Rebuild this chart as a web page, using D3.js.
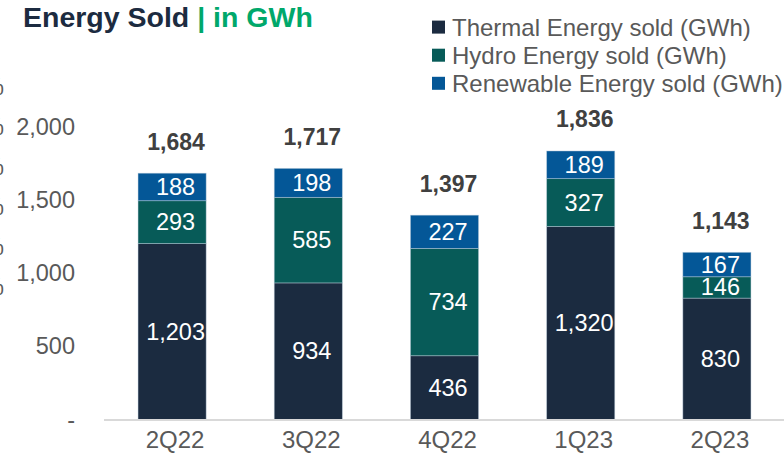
<!DOCTYPE html>
<html>
<head>
<meta charset="utf-8">
<script src="https://cdn.jsdelivr.net/npm/d3@7"></script>
<style>
  html, body { margin: 0; padding: 0; background: #fff; }
  svg { display: block; font-family: "Liberation Sans", Arial, Helvetica, sans-serif; }
</style>
</head>
<body>
<svg id="chart" width="784" height="464"></svg>
<script>
// Quarterly energy sold, GWh, stacked by source
const quarters   = ["2Q22", "3Q22", "4Q22", "1Q23", "2Q23"];
const thermal    = [1203, 934, 436, 1320, 830];
const hydro      = [293, 585, 734, 327, 146];
const renewable  = [188, 198, 227, 189, 167];
const totals     = [1684, 1717, 1397, 1836, 1143];

const seriesNames  = ["Thermal Energy sold (GWh)", "Hydro Energy sold (GWh)", "Renewable Energy sold (GWh)"];
const seriesColors = ["#1b2b40", "#075b58", "#045797"];
const yTicks       = [0, 500, 1000, 1500, 2000];

// Percent labels of the neighbouring panel's axis, cut off at the left edge
const sideAxisLabels = ["%", "%", "%", "%", "%", "%"];

const svg = d3.select("#chart");
const fmt = d3.format(",");
const FONT = "'Liberation Sans', Arial, sans-serif";

const x = d3.scaleBand().domain(quarters).range([104, 785]).paddingInner(0.5).paddingOuter(0.25);
const y = d3.scaleLinear().domain([0, 2000]).range([419.5, 127]);

const rows = quarters.map((q, i) => ({ q, thermal: thermal[i], hydro: hydro[i], renewable: renewable[i], total: totals[i] }));
const keys = ["thermal", "hydro", "renewable"];
const stacked = d3.stack().keys(keys)(rows);

// Clipped side labels
const clip = svg.append("defs").append("clipPath").attr("id", "edge");
clip.append("rect").attr("x", 0).attr("y", 0).attr("width", 784).attr("height", 464);
const side = d3.scalePoint().domain(d3.range(sideAxisLabels.length)).range([87, 287]);
svg.append("g").attr("clip-path", "url(#edge)")
  .selectAll("text").data(sideAxisLabels).join("text")
  .attr("x", 4).attr("y", (d, i) => side(i) + 8)
  .attr("text-anchor", "end").attr("font-size", 23).attr("fill", "#595959")
  .text(d => d);

// Title
const title = svg.append("text").attr("x", 23).attr("y", 27).attr("font-size", 28.5).attr("font-weight", "bold");
title.append("tspan").attr("fill", "#1c2b40").text("Energy Sold ");
title.append("tspan").attr("fill", "#00a86b").text("| in GWh");

// Legend
const legend = svg.append("g");
const legendY = d3.scalePoint().domain(seriesNames).range([27.3, 83.5]);
const li = legend.selectAll("g").data(seriesNames).join("g")
  .attr("transform", d => `translate(432,${legendY(d)})`);
li.append("rect").attr("x", 0).attr("y", -6.7).attr("width", 13).attr("height", 13)
  .attr("fill", (d, i) => seriesColors[i]);
li.append("text").attr("x", 20).attr("y", 8.5).attr("font-size", 24).attr("fill", "#595959").text(d => d);

// Y axis labels (no line, no ticks)
const yAxis = d3.axisLeft(y).tickValues(yTicks).tickSize(0).tickPadding(0)
  .tickFormat(d => d === 0 ? "-" : fmt(d));
const yg = svg.append("g").attr("transform", "translate(75,0)").call(yAxis);
yg.select(".domain").remove();
yg.selectAll("text").attr("font-size", 23.5).attr("fill", "#595959").attr("font-family", FONT);

// Stacked bars
const layers = svg.append("g").selectAll("g").data(stacked).join("g")
  .attr("fill", (d, i) => seriesColors[i]);
layers.selectAll("rect").data(d => d).join("rect")
  .attr("x", d => x(d.data.q))
  .attr("width", x.bandwidth())
  .attr("y", d => y(d[1]))
  .attr("height", d => y(d[0]) - y(d[1]))
  .attr("stroke", "rgba(190,205,220,0.55)")
  .attr("stroke-width", 0.8);

// Segment value labels
svg.append("g").selectAll("g").data(stacked).join("g")
  .selectAll("text").data(d => d.map(s => ({ s, v: s[1] - s[0] }))).join("text")
  .attr("x", d => x(d.s.data.q) + x.bandwidth() / 2 + 3.5)
  .attr("y", d => (y(d.s[0]) + y(d.s[1])) / 2 + 8)
  .attr("text-anchor", "middle").attr("font-size", 23.5).attr("fill", "#ffffff")
  .text(d => fmt(d.v));

// X axis
const xAxis = d3.axisBottom(x).tickSize(0).tickPadding(11);
const xg = svg.append("g").attr("transform", "translate(0,420)").call(xAxis);
xg.select(".domain").attr("stroke", "#d9d9d9").attr("stroke-width", 2)
  .attr("d", "M104,0H785");
xg.selectAll("text").attr("font-size", 24).attr("fill", "#595959").attr("font-family", FONT)
  .attr("dx", 3);

// Totals above bars
svg.append("g").selectAll("text").data(rows).join("text")
  .attr("x", d => x(d.q) + x.bandwidth() / 2 + 4)
  .attr("y", d => y(d.total) - 23.5)
  .attr("text-anchor", "middle").attr("font-size", 23).attr("font-weight", "bold").attr("fill", "#404040")
  .text(d => fmt(d.total));
</script>
</body>
</html>
